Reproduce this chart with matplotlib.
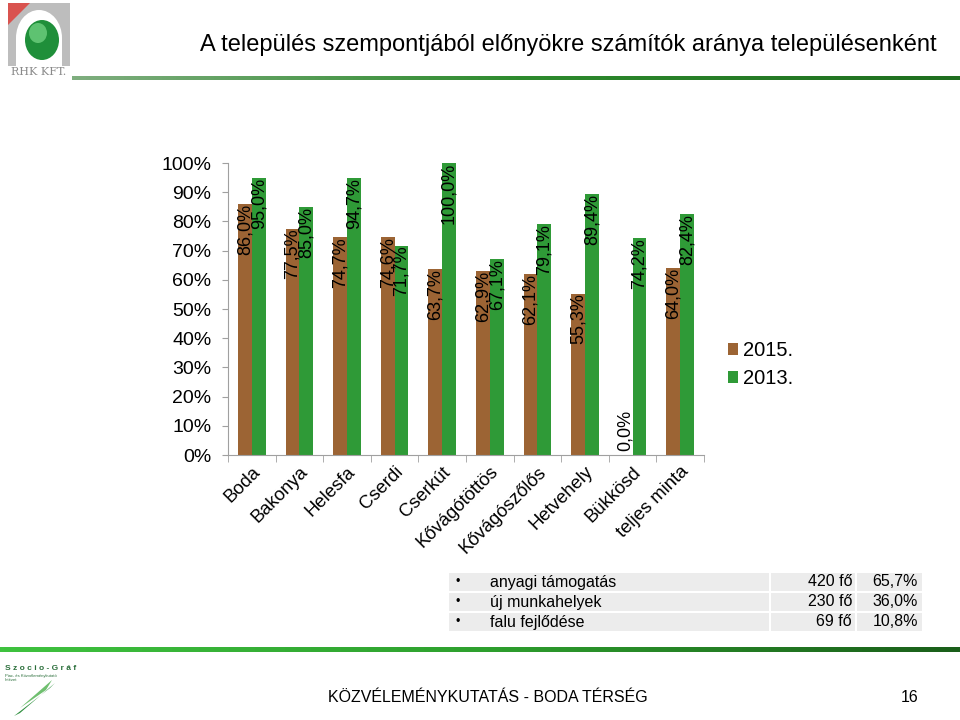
import numpy as np
import matplotlib
matplotlib.use("Agg")
import matplotlib.pyplot as plt
from matplotlib.patches import Rectangle, Ellipse, Polygon
from matplotlib.colors import LinearSegmentedColormap

plt.rcParams['font.family'] = ['Liberation Sans', 'DejaVu Sans']

# data
telepulesek = ["Boda", "Bakonya", "Helesfa", "Cserdi", "Cserkút", "Kővágótöttös",
               "Kővágószőlős", "Hetvehely", "Bükkösd", "teljes minta"]
ertek_2015 = [86.0, 77.5, 74.7, 74.6, 63.7, 62.9, 62.1, 55.3, 0.0, 64.0]
ertek_2013 = [95.0, 85.0, 94.7, 71.7, 100.0, 67.1, 79.1, 89.4, 74.2, 82.4]
evek = ["2015.", "2013."]

tabla_szoveg = ["anyagi támogatás", "új munkahelyek", "falu fejlődése"]
tabla_fo = ["420 fő", "230 fő", "69 fő"]
tabla_arany = ["65,7%", "36,0%", "10,8%"]

cim = "A település szempontjából előnyökre számítók aránya településenként"
lablec = "KÖZVÉLEMÉNYKUTATÁS - BODA TÉRSÉG"
oldal = "16"

barna = "#9C6434"
zold = "#2F9A37"

fig = plt.figure(figsize=(9.6, 7.2), dpi=100)

# background layer in pixel coordinates for slide decorations
bg = fig.add_axes([0, 0, 1, 1])
bg.set_xlim(0, 960)
bg.set_ylim(720, 0)
bg.axis("off")

# gradient lines
grad = np.linspace(0, 1, 256).reshape(1, -1)
cm_top = LinearSegmentedColormap.from_list("t", ["#7fae7f", "#2e8b2e", "#1f6e1f"])
cm_bot = LinearSegmentedColormap.from_list("b", ["#3fc23f", "#2ea02e", "#1a5e1a"])
bg.imshow(grad, cmap=cm_top, extent=[72, 960, 80, 76], aspect="auto")
bg.imshow(grad, cmap=cm_bot, extent=[0, 960, 652, 647], aspect="auto")

# RHK logo
bg.add_patch(Rectangle((8, 3), 62, 63, facecolor="#bdbdbd", edgecolor="none"))
bg.add_patch(Polygon([[8, 3], [30, 3], [8, 25]], closed=True, facecolor="#d9534f", edgecolor="none"))
bg.add_patch(Ellipse((39, 38), 46, 56, facecolor="white", edgecolor="none"))
bg.add_patch(Rectangle((16, 38), 46, 28, facecolor="white", edgecolor="none"))
bg.add_patch(Ellipse((42, 40), 34, 40, facecolor="#1f8f3a", edgecolor="none"))
bg.add_patch(Ellipse((38, 33), 18, 20, facecolor="#6fd07f", edgecolor="none", alpha=0.8))
bg.text(39, 72, "RHK KFT.", fontsize=8, family="DejaVu Serif", color="#8a8a8a",
        ha="center", va="center")

# Szocio-Graf logo
bg.text(5, 668, "S z o c i o - G r á f", fontsize=6, color="#2a6e3a", fontweight="bold",
        ha="left", va="center")
bg.text(5, 678, "Piac- és Közvéleménykutató\nIntézet", fontsize=3, color="#2a6e3a",
        ha="left", va="center")
bg.add_patch(Polygon([[14, 716], [50, 688], [55, 683], [20, 713]], closed=True,
                     facecolor="#2f8f3f", edgecolor="none"))
bg.add_patch(Polygon([[20, 708], [52, 680], [46, 690]], closed=True,
                     facecolor="#6fbf6f", edgecolor="none"))

# title and footer
bg.text(568, 45, cim, fontsize=17, ha="center", va="center", color="black")
bg.text(488, 697, lablec, fontsize=11.5, ha="center", va="center", color="black")
bg.text(910, 697, oldal, fontsize=11.5, ha="center", va="center", color="black")

# table
sorok_y = [582, 602, 622]
for y, szov, fo, ar in zip(sorok_y, tabla_szoveg, tabla_fo, tabla_arany):
    bg.add_patch(Rectangle((449, y - 9), 320, 18, facecolor="#ececec", edgecolor="none"))
    bg.add_patch(Rectangle((771, y - 9), 84, 18, facecolor="#ececec", edgecolor="none"))
    bg.add_patch(Rectangle((857, y - 9), 65, 18, facecolor="#ececec", edgecolor="none"))
    bg.text(458, y, "•", fontsize=9, ha="center", va="center")
    bg.text(490, y, szov, fontsize=11.5, ha="left", va="center")
    bg.text(852, y, fo, fontsize=11.5, ha="right", va="center")
    bg.text(918, y, ar, fontsize=11.5, ha="right", va="center")

# chart
ax = fig.add_axes([228 / 960, 1 - 455 / 720, (704 - 228) / 960, (455 - 163) / 720])
x = np.arange(len(telepulesek))
w = 0.29
ax.bar(x - w / 2, ertek_2015, w, color=barna, label=evek[0])
ax.bar(x + w / 2, ertek_2013, w, color=zold, label=evek[1])

for xs, vals in [(x - w / 2, ertek_2015), (x + w / 2, ertek_2013)]:
    for xi, v in zip(xs, vals):
        s = f"{v:.1f}%".replace(".", ",")
        if v < 20:
            ax.text(xi, v + 1.5, s, rotation=90, ha="center", va="bottom", fontsize=13)
        else:
            ax.text(xi, v, s, rotation=90, ha="center", va="top", fontsize=13)

ax.set_xlim(-0.5, len(telepulesek) - 0.5)
ax.set_ylim(0, 100)
ax.set_yticks(np.arange(0, 101, 10))
ax.set_yticklabels([f"{t}%" for t in range(0, 101, 10)], fontsize=14)
ax.set_xticks(x)
ax.set_xticklabels(telepulesek, rotation=45, ha="right", rotation_mode="anchor", fontsize=13.3)
ax.set_xticks(np.arange(-0.5, len(telepulesek)), minor=True)
ax.tick_params(axis="x", which="major", length=0, pad=6)
ax.tick_params(axis="x", which="minor", length=5, color="#a0a0a0")
ax.tick_params(axis="y", length=4, color="#a0a0a0", pad=8)
for sp in ["top", "right"]:
    ax.spines[sp].set_visible(False)
ax.spines["left"].set_color("#a0a0a0")
ax.spines["bottom"].set_color("#a0a0a0")

ax.legend(loc="upper left", bbox_to_anchor=(710 / 960, 1 - 323 / 720),
          bbox_transform=fig.transFigure, frameon=False, fontsize=14.5,
          handlelength=0.5, handleheight=0.5, handletextpad=0.25, labelspacing=0.45)

fig.savefig("out.png", dpi=100)
